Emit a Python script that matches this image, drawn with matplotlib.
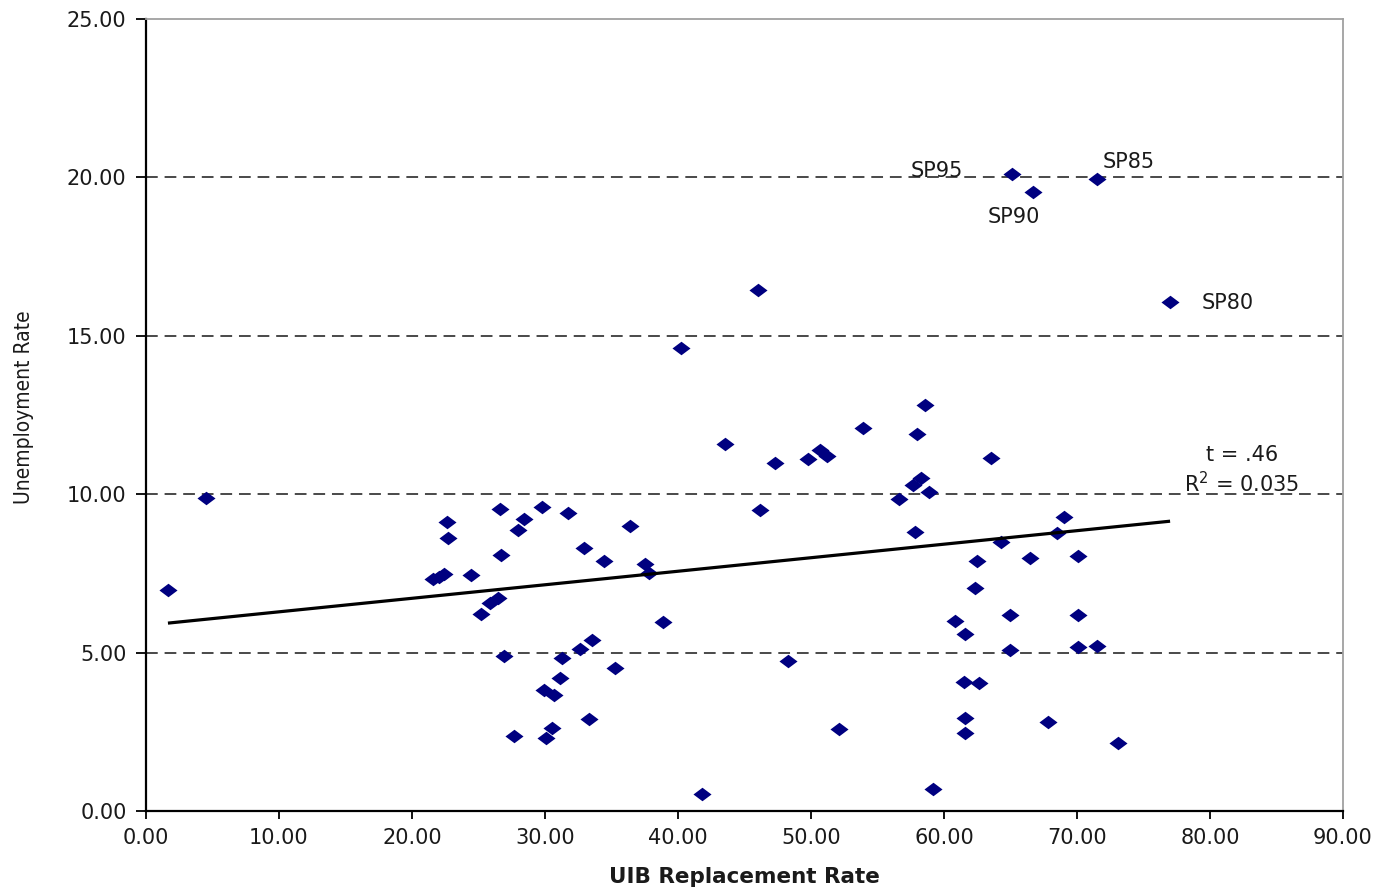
import matplotlib
matplotlib.use("Agg")
import matplotlib.pyplot as plt
from matplotlib.path import Path
from matplotlib import font_manager
from matplotlib.ticker import FormatStrFormatter
import numpy as np

# ---------------- data ----------------
replacement_rate = [
    1.65, 4.5,
    21.6, 22.0, 22.4, 22.6, 22.7, 24.4, 25.2, 25.9, 26.5, 26.6, 26.7, 26.9,
    27.7, 28.0, 28.4, 29.8, 29.9, 30.1, 30.5, 30.7, 31.1, 31.3, 31.7, 32.6,
    32.9, 33.3, 33.5, 34.4, 35.3, 36.4, 37.5, 37.8, 38.9,
    40.2, 41.8, 43.5, 46.0, 46.2, 47.3, 48.3, 49.8, 50.7, 51.2, 52.1, 53.9,
    58.6, 58.0, 63.5, 58.3, 57.7, 58.9, 56.6, 57.8, 69.0, 68.5, 64.3, 62.5,
    66.5, 70.1, 62.3, 60.8, 61.6, 65.0, 70.1, 65.0, 70.1, 71.5, 61.5, 62.6,
    61.6, 61.6, 67.8, 73.1, 59.2,
]
unemployment_rate = [
    6.98, 9.88,
    7.31, 7.40, 7.48, 9.13, 8.63, 7.45, 6.22, 6.58, 6.71, 9.53, 8.08, 4.89,
    2.37, 8.87, 9.21, 9.61, 3.82, 2.31, 2.61, 3.66, 4.19, 4.84, 9.40, 5.10,
    8.31, 2.89, 5.40, 7.89, 4.50, 9.00, 7.79, 7.50, 5.98,
    14.60, 0.53, 11.58, 16.43, 9.50, 10.98, 4.72, 11.10, 11.41, 11.22, 2.58, 12.09,
    12.80, 11.90, 11.15, 10.52, 10.29, 10.06, 9.84, 8.81, 9.28, 8.78, 8.50, 7.90,
    7.98, 8.05, 7.03, 6.00, 5.59, 6.19, 6.19, 5.08, 5.18, 5.21, 4.08, 4.05,
    2.95, 2.45, 2.82, 2.14, 0.68,
]
sp_labels = ["SP95", "SP90", "SP85", "SP80"]
sp_x = [65.1, 66.7, 71.5, 77.0]
sp_y = [20.10, 19.55, 19.94, 16.08]

trend_intercept = 5.86
trend_slope = 0.0427
stat_text = ["t = .46", "R$^2$ = 0.035"]

x_ticks = [0, 10, 20, 30, 40, 50, 60, 70, 80, 90]
y_ticks = [0, 5, 10, 15, 20, 25]
grid_values = [5, 10, 15, 20]
x_title = "UIB Replacement Rate"
y_title = "Unemployment Rate"

# ---------------- styling ----------------
plt.rcParams['font.family'] = ['DejaVu Sans']
text_col = '#1a1a1a'
marker_col = '#000080'

names = {f.name for f in font_manager.fontManager.ttflist}
condensed_dv = any(f.name == 'DejaVu Sans' and 'condensed' in str(f.stretch)
                   for f in font_manager.fontManager.ttflist)
if 'Liberation Sans Narrow' in names:
    ylab_kw = dict(family=['Liberation Sans Narrow', 'DejaVu Sans'], fontsize=18)
elif condensed_dv:
    ylab_kw = dict(family=['DejaVu Sans'], fontstretch='condensed', fontsize=15)
else:
    ylab_kw = dict(family=['Liberation Sans', 'DejaVu Sans'], fontsize=15)

fig = plt.figure(figsize=(13.84, 8.89), dpi=100)
ax = fig.add_axes([0.10549, 0.08774, 0.86488, 0.89089])

ax.set_xlim(0, 90)
ax.set_ylim(0, 25)

for v in grid_values:
    ax.axhline(v, color='#3a3a3a', lw=1.3, linestyle=(0, (6.5, 3.8)), zorder=1)

diamond = Path([(0, 0.75), (1, 0), (0, -0.75), (-1, 0), (0, 0.75)],
               [Path.MOVETO, Path.LINETO, Path.LINETO, Path.LINETO, Path.CLOSEPOLY])

all_x = np.array(replacement_rate + sp_x)
all_y = np.array(unemployment_rate + sp_y)
ax.plot(all_x, all_y, linestyle='none', marker=diamond, markersize=13,
        markerfacecolor=marker_col, markeredgewidth=0, zorder=2)

tx = np.array([all_x.min(), all_x.max()])
ax.plot(tx, trend_intercept + trend_slope * tx, color='black', lw=2.3,
        solid_capstyle='butt', zorder=3)

# labels of the Spanish points
offsets = [(-75, 3.6), (-19.7, -25.3), (31.7, 17.6), (58, -1)]
for lab, xv, yv, off in zip(sp_labels, sp_x, sp_y, offsets):
    ax.annotate(lab, (xv, yv), xytext=off, textcoords='offset pixels',
                ha='center', va='center', fontsize=15, color=text_col, zorder=4)

ax.text(82.4, 11.24, stat_text[0], ha='center', va='center', fontsize=15,
        color=text_col, zorder=4)
ax.text(82.4, 10.32, stat_text[1], ha='center', va='center', fontsize=15,
        color=text_col, zorder=4)

# axes frame
for s in ['left', 'bottom']:
    ax.spines[s].set_color('black')
    ax.spines[s].set_linewidth(1.6)
for s in ['top', 'right']:
    ax.spines[s].set_color('#a0a0a0')
    ax.spines[s].set_linewidth(1.3)

ax.set_xticks(x_ticks)
ax.set_yticks(y_ticks)
ax.xaxis.set_major_formatter(FormatStrFormatter('%.2f'))
ax.yaxis.set_major_formatter(FormatStrFormatter('%.2f'))
ax.tick_params(axis='y', direction='out', length=7, width=1.3, pad=7,
               labelsize=15, labelcolor=text_col)
ax.tick_params(axis='x', direction='out', length=6, width=1.3, pad=6,
               labelsize=15, labelcolor=text_col)

ax.set_xlabel(x_title, fontsize=15.5, fontweight='bold', color=text_col, va='center')
ax.xaxis.set_label_coords(0.5, -0.0833)
ax.set_ylabel(y_title, color=text_col, va='center', ha='center', **ylab_kw)
ax.yaxis.set_label_coords(-0.102, 0.51)

fig.savefig('out.png', dpi=100, facecolor='white')
